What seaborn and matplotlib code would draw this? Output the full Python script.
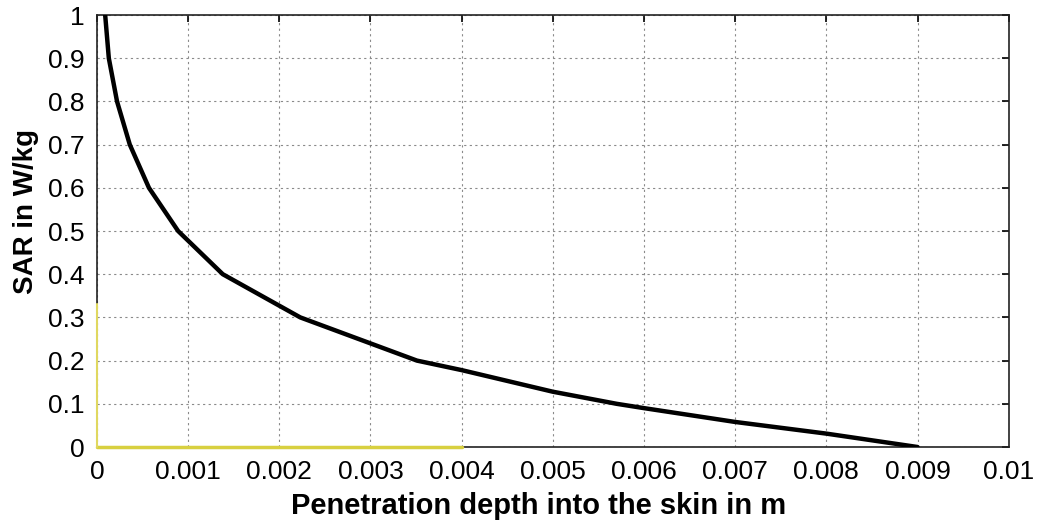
import matplotlib
matplotlib.use("Agg")
import matplotlib.pyplot as plt
import seaborn as sns
import pandas as pd

# Data
depth_m = [0.00009, 0.00013, 0.00022, 0.00036, 0.00057, 0.00089, 0.00138,
           0.00223, 0.00351, 0.0040, 0.0050, 0.0057, 0.0060, 0.0070, 0.0080, 0.0090]
sar_wkg = [1.0, 0.9, 0.8, 0.7, 0.6, 0.5, 0.4, 0.3, 0.2, 0.178, 0.128, 0.10,
           0.09, 0.058, 0.031, 0.0]

# faint yellow traces along the axes
base_x = [0.0, 0.004]
base_y = [0.0, 0.0]
edge_x = [0.0, 0.0]
edge_y = [0.0, 0.33]

x_ticks = [0, 0.001, 0.002, 0.003, 0.004, 0.005, 0.006, 0.007, 0.008, 0.009, 0.01]
x_labels = ["0", "0.001", "0.002", "0.003", "0.004", "0.005", "0.006", "0.007",
            "0.008", "0.009", "0.01"]
y_ticks = [0, 0.1, 0.2, 0.3, 0.4, 0.5, 0.6, 0.7, 0.8, 0.9, 1]
y_labels = ["0", "0.1", "0.2", "0.3", "0.4", "0.5", "0.6", "0.7", "0.8", "0.9", "1"]

sns.set_style("white")
plt.rcParams["font.family"] = ["Liberation Sans", "DejaVu Sans"]
plt.rcParams["text.color"] = "black"
plt.rcParams["axes.labelcolor"] = "black"

fig = plt.figure(figsize=(10.54, 5.23), dpi=100)
ax = fig.add_axes([0.092, 0.1453, 0.865, 0.826])

df = pd.DataFrame({"depth": depth_m, "sar": sar_wkg})
sns.lineplot(data=df, x="depth", y="sar", sort=False, color="black",
             linewidth=3.2, ax=ax, zorder=5)
ax.plot(base_x, base_y, color="#d8d040", linewidth=2.5, zorder=4, clip_on=False)
ax.plot(edge_x, edge_y, color="#e0d860", linewidth=1.5, zorder=4, clip_on=False)

ax.set_xlim(0, 0.01)
ax.set_ylim(0, 1)
ax.set_xticks(x_ticks)
ax.set_xticklabels(x_labels)
ax.set_yticks(y_ticks)
ax.set_yticklabels(y_labels)

ax.grid(True, color="#8a8a8a", linestyle=(0, (2, 3)), linewidth=0.8)
ax.tick_params(direction="in", length=5, width=1.2, labelsize=19,
               top=True, right=True, colors="black", labelcolor="black")
ax.tick_params(axis="x", pad=9)
ax.tick_params(axis="y", pad=9)
for s in ax.spines.values():
    s.set_visible(True)
    s.set_color("#222222")
    s.set_linewidth(1.2)

ax.set_xlabel("Penetration depth into the skin in m", fontsize=21,
              fontweight="bold", color="black")
ax.xaxis.set_label_coords(0.484, -0.104)
ax.set_ylabel("SAR in W/kg", fontsize=20, fontweight="bold", color="black")
ax.yaxis.set_label_coords(-0.064, 0.546)

fig.savefig("out.png", dpi=100, facecolor="white")
